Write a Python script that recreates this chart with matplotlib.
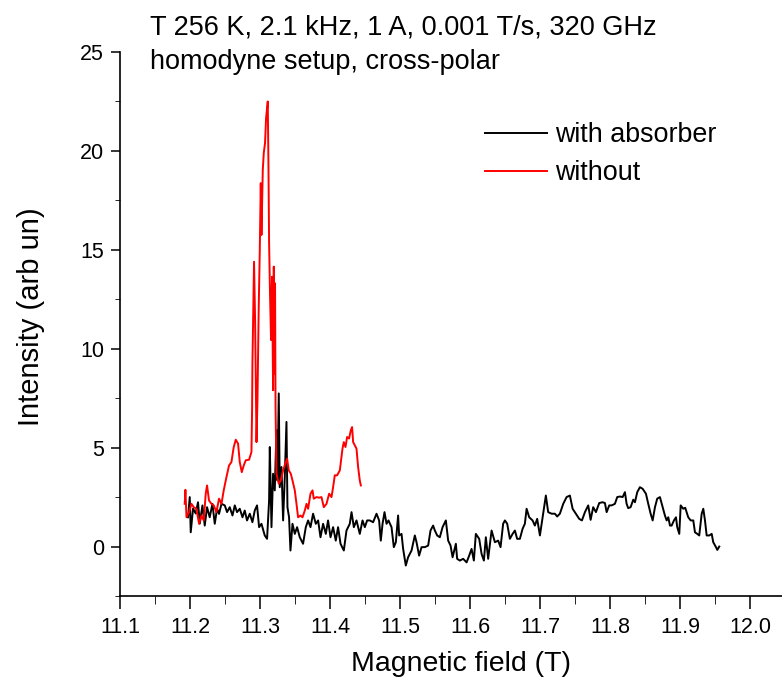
import matplotlib
matplotlib.use("Agg")
import matplotlib.pyplot as plt
from matplotlib.ticker import MultipleLocator

plt.rcParams['font.family'] = ['Liberation Sans', 'DejaVu Sans']

# with absorber (black)
field_abs = [11.1971, 11.1996, 11.2010, 11.2043, 11.2081, 11.2114, 11.2139, 11.2177, 11.2210, 11.2243,
             11.2281, 11.2320, 11.2353, 11.2386, 11.2414, 11.2449, 11.2496, 11.2529, 11.2567, 11.2606,
             11.2639, 11.2671, 11.2710, 11.2749, 11.2781, 11.2814, 11.2853, 11.2891, 11.2924, 11.2957,
             11.2986, 11.3020, 11.3067, 11.3100, 11.3129, 11.3139, 11.3163, 11.3186, 11.3210, 11.3234,
             11.3249, 11.3267, 11.3281, 11.3306, 11.3329, 11.3353, 11.3377, 11.3391, 11.3414, 11.3434,
             11.3463, 11.3496, 11.3529, 11.3567, 11.3614, 11.3653, 11.3686, 11.3720, 11.3757, 11.3796,
             11.3829, 11.3863, 11.3900, 11.3939, 11.3971, 11.4006, 11.4043, 11.4081, 11.4114, 11.4149,
             11.4196, 11.4234, 11.4281, 11.4306, 11.4339, 11.4377, 11.4424, 11.4463, 11.4496, 11.4529,
             11.4567, 11.4614, 11.4663, 11.4700, 11.4724, 11.4749, 11.4777, 11.4806, 11.4834, 11.4877,
             11.4910, 11.4939, 11.4971, 11.4986, 11.5020, 11.5043, 11.5081, 11.5114, 11.5163, 11.5210,
             11.5234, 11.5271, 11.5306, 11.5353, 11.5400, 11.5434, 11.5471, 11.5496, 11.5529, 11.5567,
             11.5606, 11.5653, 11.5686, 11.5720, 11.5749, 11.5796, 11.5814, 11.5853, 11.5900, 11.5949,
             11.5986, 11.6020, 11.6053, 11.6081, 11.6129, 11.6163, 11.6196, 11.6224, 11.6257, 11.6306,
             11.6353, 11.6400, 11.6434, 11.6471, 11.6496, 11.6529, 11.6567, 11.6606, 11.6639, 11.6671,
             11.6710, 11.6749, 11.6781, 11.6806, 11.6843, 11.6891, 11.6924, 11.6957, 11.6996, 11.7043,
             11.7081, 11.7114, 11.7163, 11.7210, 11.7243, 11.7281, 11.7329, 11.7377, 11.7424, 11.7463,
             11.7510, 11.7557, 11.7596, 11.7639, 11.7686, 11.7720, 11.7757, 11.7796, 11.7843, 11.7891,
             11.7924, 11.7949, 11.7986, 11.8020, 11.8067, 11.8100, 11.8139, 11.8177, 11.8210, 11.8234,
             11.8257, 11.8291, 11.8329, 11.8353, 11.8386, 11.8424, 11.8463, 11.8510, 11.8543, 11.8577,
             11.8606, 11.8639, 11.8671, 11.8710, 11.8749, 11.8781, 11.8806, 11.8829, 11.8853, 11.8877,
             11.8910, 11.8939, 11.8957, 11.8986, 11.9006, 11.9043, 11.9071, 11.9114, 11.9149, 11.9186,
             11.9210, 11.9243, 11.9271, 11.9306, 11.9329, 11.9353, 11.9377, 11.9414, 11.9449, 11.9471,
             11.9510, 11.9529, 11.9557]
int_abs = [1.48, 2.50, 0.72, 1.92, 1.67, 2.24, 1.16, 2.08, 1.06, 1.99,
           1.48, 2.16, 1.15, 1.91, 1.65, 2.16, 2.08, 1.74, 1.99, 1.57,
           2.08, 1.74, 1.91, 1.48, 1.82, 1.32, 1.66, 1.23, 1.82, 2.08,
           0.98, 1.15, 0.56, 0.39, 2.33, 5.03, 0.98, 3.68, 2.84, 5.88,
           3.34, 7.74, 3.00, 4.02, 1.32, 3.51, 6.30, 1.99, 1.48, -0.20,
           1.15, 0.64, 0.98, 0.47, 0.14, 0.98, 1.32, 0.98, 1.66, 1.15,
           1.32, 0.47, 1.15, 0.64, 1.32, 0.47, 0.98, 0.30, 0.98, 0.14,
           -0.20, 0.81, 1.15, 1.74, 0.98, 1.32, 0.64, 1.32, 0.98, 1.32,
           1.32, 1.23, 1.66, 1.32, 0.30, 1.15, 1.74, 1.15, 1.32, 0.98,
           -0.03, 0.22, 1.57, 0.56, 0.64, -0.12, -0.96, -0.54, -0.20, 0.56,
           0.22, -0.46, -0.03, -0.03, 0.05, 0.81, 1.06, 0.81, 0.56, 0.47,
           0.98, 1.32, 0.30, 0.05, -0.54, 0.14, -0.62, -0.71, -0.62, -0.80,
           -0.46, -0.12, -0.71, 0.64, 0.39, -0.37, -0.71, 0.47, -0.62, 0.81,
           0.22, 0.30, -0.03, 1.15, 1.32, 1.15, 0.39, 0.64, 0.81, 0.39,
           0.39, 0.90, 1.15, 1.91, 1.48, 1.32, 1.06, 1.40, 0.56, 1.66,
           2.58, 1.74, 1.66, 1.66, 1.52, 1.66, 2.16, 2.50, 2.58, 1.91,
           1.66, 1.40, 1.32, 1.74, 2.08, 1.35, 1.99, 1.74, 2.20, 2.24,
           2.20, 1.74, 2.08, 2.08, 2.16, 2.50, 2.53, 2.50, 2.75, 2.16,
           1.94, 1.99, 2.37, 2.24, 2.75, 3.00, 2.92, 2.67, 2.16, 1.66,
           1.32, 1.99, 2.42, 2.50, 1.99, 1.57, 1.32, 1.48, 1.06, 1.06,
           1.32, 1.48, 0.98, 0.64, 2.08, 1.91, 1.96, 1.48, 1.32, 1.32,
           0.72, 0.64, 0.56, 1.66, 1.91, 1.32, 0.56, 0.56, 0.64, 0.22,
           -0.03, -0.17, 0.00]

# without absorber (red)
field_wo = [11.1924, 11.1934, 11.1949, 11.1986, 11.2020, 11.2053, 11.2091, 11.2129, 11.2163, 11.2196,
            11.2224, 11.2243, 11.2271, 11.2306, 11.2339, 11.2377, 11.2414, 11.2449, 11.2481, 11.2520,
            11.2557, 11.2591, 11.2624, 11.2653, 11.2686, 11.2710, 11.2739, 11.2767, 11.2796, 11.2843,
            11.2877, 11.2886, 11.2891, 11.2914, 11.2929, 11.2949, 11.2963, 11.2981, 11.2996, 11.3010,
            11.3020, 11.3039, 11.3053, 11.3071, 11.3086, 11.3110, 11.3120, 11.3129, 11.3143, 11.3157,
            11.3171, 11.3186, 11.3196, 11.3206, 11.3214, 11.3221, 11.3234, 11.3267, 11.3296, 11.3329,
            11.3367, 11.3386, 11.3410, 11.3439, 11.3463, 11.3496, 11.3520, 11.3543, 11.3577, 11.3606,
            11.3639, 11.3663, 11.3686, 11.3720, 11.3749, 11.3767, 11.3806, 11.3843, 11.3877, 11.3910,
            11.3949, 11.3986, 11.4020, 11.4043, 11.4067, 11.4100, 11.4139, 11.4177, 11.4196, 11.4220,
            11.4243, 11.4271, 11.4296, 11.4314, 11.4329, 11.4377, 11.4400, 11.4424, 11.4439]
int_wo = [2.16, 2.87, 1.48, 1.74, 2.16, 1.99, 1.91, 1.15, 1.57, 1.32,
          2.67, 3.09, 2.33, 2.16, 2.08, 1.74, 2.42, 2.16, 2.84, 3.51,
          4.10, 4.27, 5.03, 5.40, 5.20, 4.27, 3.76, 4.10, 4.36, 4.39,
          4.78, 6.89, 9.26, 14.40, 11.45, 5.28, 7.40, 12.12, 15.00, 18.37,
          15.75, 19.05, 19.90, 20.40, 21.67, 22.50, 19.21, 15.33, 12.63, 10.44,
          13.64, 7.90, 14.15, 8.75, 13.31, 7.06, 3.68, 3.18, 3.34, 3.85,
          4.27, 4.44, 3.85, 3.68, 3.34, 2.84, 2.16, 1.48, 1.57, 1.48,
          1.82, 2.16, 1.91, 2.67, 2.84, 2.42, 2.50, 2.47, 2.50, 1.99,
          2.16, 2.67, 2.50, 3.00, 3.60, 3.60, 3.85, 4.95, 5.28, 5.03,
          5.54, 5.46, 5.88, 6.04, 5.28, 4.95, 4.02, 3.34, 3.09]

x_ticks = [11.1, 11.2, 11.3, 11.4, 11.5, 11.6, 11.7, 11.8, 11.9, 12.0]
y_ticks = [0, 5, 10, 15, 20, 25]

fig = plt.figure(figsize=(7.82, 6.78), dpi=100)
ax = fig.add_axes([120 / 782, 1 - 596 / 678, 1 - 120 / 782, (596 - 52) / 678])

ax.plot(field_abs, int_abs, color='black', lw=1.4, label='with absorber')
ax.plot(field_wo, int_wo, color='red', lw=1.4, label='without')

ax.set_xticks(x_ticks)
ax.set_xticklabels([f'{v:.1f}' for v in x_ticks])
ax.set_yticks(y_ticks)
ax.set_xlim(11.1, 11.1 + (782 - 120.3) / 700)
ax.set_ylim(-2.5, 25)
ax.xaxis.set_minor_locator(MultipleLocator(0.05))
ax.yaxis.set_minor_locator(MultipleLocator(2.5))
ax.spines['top'].set_visible(False)
ax.spines['right'].set_visible(False)
for s in ('left', 'bottom'):
    ax.spines[s].set_linewidth(1.2)
ax.tick_params(direction='out', width=1.1, labelsize=15.5)
ax.tick_params(axis='x', which='major', length=9, pad=6)
ax.tick_params(axis='x', which='minor', length=6)
ax.tick_params(axis='y', which='major', length=6.5, pad=5)
ax.tick_params(axis='y', which='minor', length=3.5)

ax.set_xlabel('Magnetic field (T)', fontsize=20.5)
ax.xaxis.set_label_coords((461 - 120) / 662, -(651 - 596) / 544)
ax.set_ylabel('Intensity (arb un)', fontsize=21)
ax.yaxis.set_label_coords(-(120 - 45) / 662, (596 - 317) / 544)

fig.text(150 / 782, 1 - 34 / 678, 'T 256 K, 2.1 kHz, 1 A, 0.001 T/s, 320 GHz', fontsize=19.5, va='baseline')
fig.text(150 / 782, 1 - 69 / 678, 'homodyne setup, cross-polar', fontsize=19.5, va='baseline')

ax.legend(loc='upper left', bbox_to_anchor=(485 / 782, 1 - 122 / 678), bbox_transform=fig.transFigure,
          frameon=False, fontsize=19.4, handlelength=2.3, handletextpad=0.3, labelspacing=0.45,
          borderpad=0, borderaxespad=0)

fig.savefig('out.png', dpi=100)
